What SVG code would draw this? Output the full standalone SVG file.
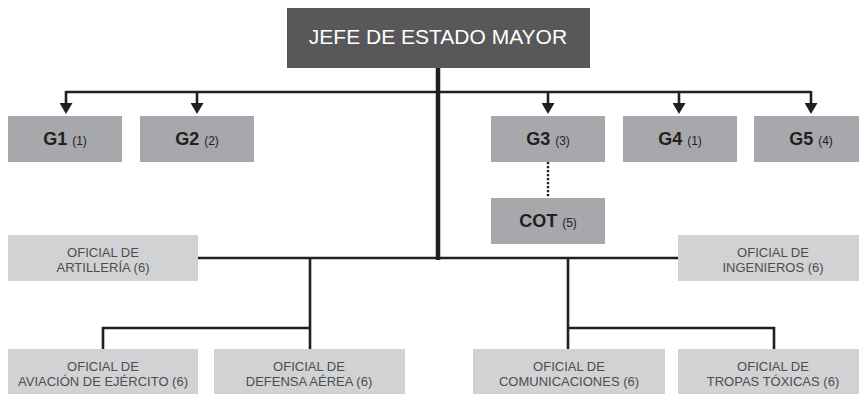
<svg xmlns="http://www.w3.org/2000/svg" width="859" height="394" viewBox="0 0 859 394">
<defs>
<marker id="arr" markerUnits="userSpaceOnUse" markerWidth="13" markerHeight="12" refX="6.5" refY="7" orient="0" viewBox="0 0 13 12">
<path d="M0,0 L13,0 L6.5,11 Z" fill="#231f20"/>
</marker>
<style>
.line{fill:none;stroke:#231f20;stroke-width:2.6}
.trunk{fill:none;stroke:#231f20;stroke-width:4.5}
.dot{fill:none;stroke:#231f20;stroke-width:2.4;stroke-dasharray:2.2 1.8}
.dark{fill:#58585a}
.mid{fill:#a7a8ab}
.light{fill:#d1d2d4}
.title{font-family:"Liberation Sans",Arial,sans-serif;font-size:21px;fill:#ffffff;text-anchor:middle}
.g{font-family:"Liberation Sans",Arial,sans-serif;font-size:18px;font-weight:bold;fill:#231f20;text-anchor:middle}
.n{font-size:12px;font-weight:normal}
.off{font-family:"Liberation Sans",Arial,sans-serif;font-size:13px;fill:#4d4d4f;text-anchor:middle}
</style>
</defs>
<g id="connectors">
<path class="trunk" d="M438,68 V260"/>
<path class="line" d="M66,92 H811"/>
<path class="line" d="M66,91 V110" marker-end="url(#arr)"/>
<path class="line" d="M197,91 V110" marker-end="url(#arr)"/>
<path class="line" d="M548,91 V110" marker-end="url(#arr)"/>
<path class="line" d="M679,91 V110" marker-end="url(#arr)"/>
<path class="line" d="M811,91 V110" marker-end="url(#arr)"/>
<path class="dot" d="M548,162 V198"/>
<path class="line" d="M198,258 H678"/>
<path class="line" d="M310,258 V349"/>
<path class="line" d="M103,349 V328 H310"/>
<path class="line" d="M568,258 V349"/>
<path class="line" d="M568,328 H774 V349"/>
</g>
<g id="jefe"><rect class="dark" x="287" y="8" width="303" height="60"/><text class="title" x="438" y="44">JEFE DE ESTADO MAYOR</text></g>
<g id="g1"><rect class="mid" x="8" y="116" width="114" height="46"/><text class="g" x="65" y="145">G1 <tspan class="n">(1)</tspan></text></g>
<g id="g2"><rect class="mid" x="140" y="116" width="114" height="46"/><text class="g" x="197" y="145">G2 <tspan class="n">(2)</tspan></text></g>
<g id="g3"><rect class="mid" x="491" y="116" width="114" height="46"/><text class="g" x="548" y="145">G3 <tspan class="n">(3)</tspan></text></g>
<g id="g4"><rect class="mid" x="623" y="116" width="114" height="46"/><text class="g" x="680" y="145">G4 <tspan class="n">(1)</tspan></text></g>
<g id="g5"><rect class="mid" x="754" y="116" width="114" height="46"/><text class="g" x="811" y="145">G5 <tspan class="n">(4)</tspan></text></g>
<g id="cot"><rect class="mid" x="491" y="198" width="114" height="46"/><text class="g" x="548" y="227">COT <tspan class="n">(5)</tspan></text></g>
<g id="artilleria"><rect class="light" x="8" y="235" width="190" height="46"/><text class="off" x="103" y="257">OFICIAL DE</text><text class="off" x="103" y="272">ARTILLERÍA (6)</text></g>
<g id="ingenieros"><rect class="light" x="678" y="235" width="190" height="46"/><text class="off" x="773" y="257">OFICIAL DE</text><text class="off" x="773" y="272">INGENIEROS (6)</text></g>
<g id="aviacion"><rect class="light" x="8" y="349" width="190" height="46"/><text class="off" x="103" y="371">OFICIAL DE</text><text class="off" x="103" y="386">AVIACIÓN DE EJÉRCITO (6)</text></g>
<g id="defensa"><rect class="light" x="214" y="349" width="191" height="46"/><text class="off" x="309" y="371">OFICIAL DE</text><text class="off" x="309" y="386">DEFENSA AÉREA (6)</text></g>
<g id="comunicaciones"><rect class="light" x="473" y="349" width="192" height="46"/><text class="off" x="569" y="371">OFICIAL DE</text><text class="off" x="569" y="386">COMUNICACIONES (6)</text></g>
<g id="tropas"><rect class="light" x="678" y="349" width="190" height="46"/><text class="off" x="773" y="371">OFICIAL DE</text><text class="off" x="773" y="386">TROPAS TÓXICAS (6)</text></g>
</svg>
